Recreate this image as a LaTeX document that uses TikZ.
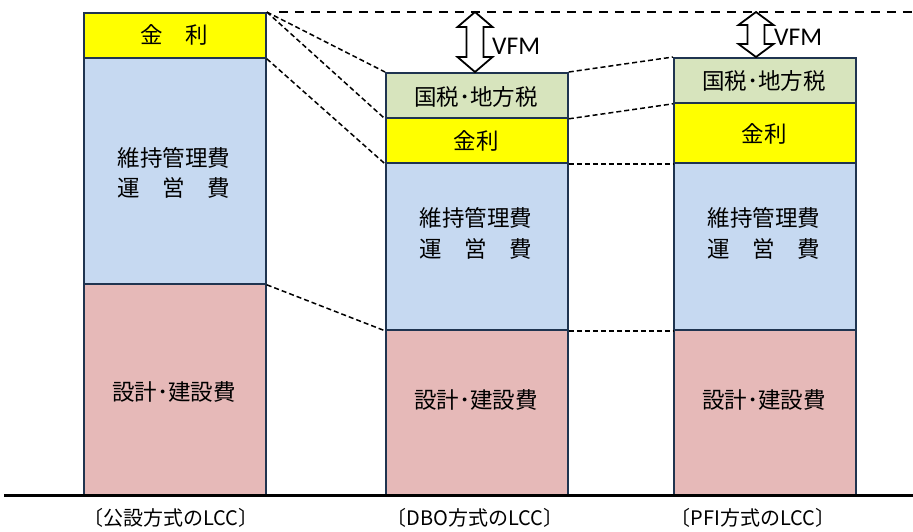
\documentclass[tikz,border=0pt]{standalone}
\usepackage{fontspec}
\newfontfamily\jp{Noto Sans CJK JP}
\newfontfamily\lat{Carlito}
\definecolor{bord}{HTML}{1F3450}
\definecolor{cyel}{HTML}{FFFF00}
\definecolor{cblue}{HTML}{C6D9F1}
\definecolor{cpink}{HTML}{E6B9B8}
\definecolor{cgreen}{HTML}{D7E4BD}
\tikzset{
 seg/.style={draw=bord, line width=1.8pt, inner sep=0pt, anchor=north west, minimum width=182pt},
 lbl/.style={font=\jp\fontsize{22.5}{26}\selectfont, inner sep=0pt},
 capt/.style={font=\jp\fontsize{20}{24}\selectfont, inner sep=0pt},
 link/.style={line width=1.5pt, dash pattern=on 5pt off 3pt},
 toplink/.style={line width=1.7pt, dash pattern=on 9pt off 7pt},
 vfm/.style={draw=black, line width=1.8pt, fill=white, line join=miter},
 vfmtext/.style={font=\lat\fontsize{25.5}{30}\selectfont, inner sep=0pt, anchor=west}
}
\newcommand\vfmarrow[4]{% x, ytop, ybot, head
 \draw[vfm] (#1,#2) -- (#1+17.5,#2+#4) -- (#1+8.5,#2+#4) -- (#1+8.5,#3-#4) -- (#1+17.5,#3-#4) -- (#1,#3) -- (#1-17.5,#3-#4) -- (#1-8.5,#3-#4) -- (#1-8.5,#2+#4) -- (#1-17.5,#2+#4) -- cycle;}
\begin{document}
\begin{tikzpicture}[x=1pt,y=-1pt]
\useasboundingbox (0,0) rectangle (913,531);
% column 1
\node[seg, fill=cyel, minimum height=45pt] (a1) at (83,12) {};
\node[seg, fill=cblue, minimum height=226pt] (a2) at (83,57) {};
\node[seg, fill=cpink, minimum height=212pt] (a3) at (83,283) {};
% column 2
\node[seg, fill=cgreen, minimum height=45pt] (b0) at (385,72) {};
\node[seg, fill=cyel, minimum height=45pt] (b1) at (385,117) {};
\node[seg, fill=cblue, minimum height=167pt] (b2) at (385,162) {};
\node[seg, fill=cpink, minimum height=166pt] (b3) at (385,329) {};
% column 3
\node[seg, fill=cgreen, minimum height=45pt] (c0) at (673,57) {};
\node[seg, fill=cyel, minimum height=60pt] (c1) at (673,102) {};
\node[seg, fill=cblue, minimum height=167pt] (c2) at (673,162) {};
\node[seg, fill=cpink, minimum height=166pt] (c3) at (673,329) {};
% texts
\node[lbl] (ta1) at (174,35) {金　利};
\node[lbl] (ta2) at (174,158) {維持管理費};
\node[lbl] (ta2b) at (174,188) {運　営　費};
\node[lbl] (ta3) at (174,392) {設計･建設費};
\node[lbl] (tb0) at (476,97) {国税･地方税};
\node[lbl] (tb1) at (476,141) {金利};
\node[lbl] (tb2) at (476,218) {維持管理費};
\node[lbl] (tb2b) at (476,249) {運　営　費};
\node[lbl] (tb3) at (476,400) {設計･建設費};
\node[lbl] (tc0) at (764,81) {国税･地方税};
\node[lbl] (tc1) at (764,134) {金利};
\node[lbl] (tc2) at (764,218) {維持管理費};
\node[lbl] (tc2b) at (764,249) {運　営　費};
\node[lbl] (tc3) at (764,400) {設計･建設費};
% dashed connectors
\coordinate (topend) at (913,12);
\draw[toplink] (a1.north east) ++(12,0) -- (topend);
\draw[link] (a1.north east) -- (b0.north west);
\draw[link] (a1.north east) -- (b0.south west);
\draw[link] (a1.south east) -- (b1.south west);
\draw[link] (a2.south east) -- (b2.south west);
\draw[link] (b0.north east) -- (c0.north west);
\draw[link] (b0.south east) -- (c0.south west);
\draw[link] (b1.south east) -- (c1.south west);
\draw[link] (b2.south east) -- (c2.south west);
% baseline
\coordinate (bl) at (4,495);
\coordinate (br) at (913,495);
\draw[line width=3pt] (bl) -- (br);
% VFM arrows
\vfmarrow{475}{12}{72}{15}
\node[vfmtext] (v1) at (492,46) {VFM};
\vfmarrow{756}{12}{57}{13}
\node[vfmtext] (v2) at (774,37) {VFM};
% captions
\node[capt] (l1) at (171,518) {〔公設方式のLCC〕};
\node[capt] (l2) at (475,518) {〔DBO方式のLCC〕};
\node[capt] (l3) at (753,518) {〔PFI方式のLCC〕};
\end{tikzpicture}
\end{document}
